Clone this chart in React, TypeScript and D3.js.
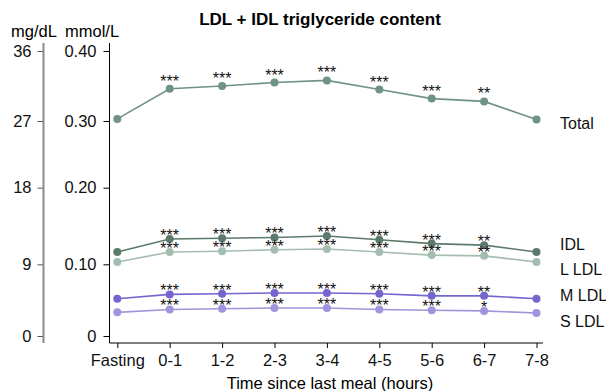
import React, { useEffect, useRef } from "react";
import * as d3 from "d3";

const times = ["Fasting", "0-1", "1-2", "2-3", "3-4", "4-5", "5-6", "6-7", "7-8"];

const mmolTicks = [0, 0.1, 0.2, 0.3, 0.4];
const mgTicks = [0, 9, 18, 27, 36];

const seriesNames = ["Total", "IDL", "L LDL", "M LDL", "S LDL"];

const totalValues = [0.303, 0.346, 0.35, 0.355, 0.358, 0.345, 0.332, 0.328, 0.302];
const idlValues = [0.116, 0.133, 0.134, 0.135, 0.137, 0.132, 0.127, 0.125, 0.116];
const lldlValues = [0.103, 0.116, 0.117, 0.119, 0.12, 0.116, 0.112, 0.111, 0.103];
const mldlValues = [0.052, 0.058, 0.059, 0.06, 0.06, 0.059, 0.056, 0.056, 0.052];
const sldlValues = [0.033, 0.037, 0.038, 0.039, 0.039, 0.037, 0.036, 0.035, 0.032];

const totalStars = ["", "***", "***", "***", "***", "***", "***", "**", ""];
const idlStars = ["", "***", "***", "***", "***", "***", "***", "**", ""];
const lldlStars = ["", "***", "***", "***", "***", "***", "***", "**", ""];
const mldlStars = ["", "***", "***", "***", "***", "***", "***", "**", ""];
const sldlStars = ["", "***", "***", "***", "***", "***", "***", "*", ""];

const FONT = "Arial, 'Liberation Sans', sans-serif";

const App: React.FC = () => {
  const svgRef = useRef<SVGSVGElement | null>(null);

  useEffect(() => {
    if (!svgRef.current) return;
    const svg = d3.select(svgRef.current);
    svg.selectAll("*").remove();

    const values = [totalValues, idlValues, lldlValues, mldlValues, sldlValues];
    const stars = [totalStars, idlStars, lldlStars, mldlStars, sldlStars];
    const colors = ["#6e9283", "#5b7a6c", "#a3bdb1", "#7565cf", "#a095dc"];
    const starShift = [-2, 2, 2, 2, 2];
    const labelShift = [4, -8, 7, -3, 8];

    const x = d3
      .scalePoint<string>()
      .domain(times)
      .range([117.3, 536.5]);

    // the picture's ticks are not evenly spaced, so follow them piecewise
    const yRange = [336, 264.3, 187.7, 121, 51];
    const y = d3.scaleLinear().domain(mmolTicks).range(yRange);
    const yMg = d3.scaleLinear().domain(mgTicks).range(yRange);

    // mg/dL axis (gray)
    const gMg = svg.append("g").attr("transform", "translate(43.5,0)");
    gMg.call(
      d3.axisLeft(yMg).tickValues(mgTicks).tickSize(6).tickPadding(6).tickFormat(d3.format("d"))
    );
    gMg.select(".domain").remove();
    gMg
      .append("line")
      .attr("y1", 43)
      .attr("y2", 343)
      .attr("stroke", "#8a8a8a")
      .attr("stroke-width", 2);
    gMg.selectAll(".tick line").attr("stroke", "#555");

    // mmol/L axis
    const gMm = svg.append("g").attr("transform", "translate(109.5,0)");
    gMm.call(
      d3
        .axisLeft(y)
        .tickValues(mmolTicks)
        .tickSize(6)
        .tickPadding(7)
        .tickFormat((d) => ((d as number) === 0 ? "0" : d3.format(".2f")(d as number)))
    );
    gMm.select(".domain").remove();
    gMm.append("line").attr("y1", 43).attr("y2", 343).attr("stroke", "#000");

    // x axis
    const gX = svg.append("g").attr("transform", "translate(0,343)");
    gX.call(d3.axisBottom(x).tickSize(5).tickPadding(6));
    gX.select(".domain").remove();
    gX.append("line").attr("x1", 109.5).attr("x2", 543).attr("stroke", "#000");

    svg
      .selectAll(".tick text")
      .attr("font-family", FONT)
      .attr("font-size", 16.5)
      .attr("fill", "#111");

    const line = d3
      .line<number>()
      .x((_, i) => x(times[i])!)
      .y((d) => y(d));

    values.forEach((vals, s) => {
      const g = svg.append("g");
      g.append("path")
        .datum(vals)
        .attr("d", line)
        .attr("fill", "none")
        .attr("stroke", colors[s])
        .attr("stroke-width", 1.6);
      g.selectAll("circle")
        .data(vals)
        .enter()
        .append("circle")
        .attr("cx", (_, i) => x(times[i])!)
        .attr("cy", (d) => y(d))
        .attr("r", 4)
        .attr("fill", colors[s]);
      g.selectAll("text.star")
        .data(vals)
        .enter()
        .append("text")
        .attr("class", "star")
        .attr("x", (_, i) => x(times[i])!)
        .attr("y", (d) => y(d) + starShift[s])
        .attr("text-anchor", "middle")
        .attr("font-family", FONT)
        .attr("font-size", 16)
        .attr("fill", "#111")
        .text((_, i) => stars[s][i]);
      g.append("text")
        .attr("x", 560)
        .attr("y", y(vals[vals.length - 1]) + labelShift[s])
        .attr("dy", "0.35em")
        .attr("font-family", FONT)
        .attr("font-size", 16)
        .attr("fill", "#111")
        .text(seriesNames[s]);
    });

    svg
      .append("text")
      .attr("x", 320)
      .attr("y", 25)
      .attr("text-anchor", "middle")
      .attr("font-family", FONT)
      .attr("font-size", 17)
      .attr("font-weight", "bold")
      .text("LDL + IDL triglyceride content");

    svg
      .append("text")
      .attr("x", 11)
      .attr("y", 36.5)
      .attr("font-family", FONT)
      .attr("font-size", 16.5)
      .text("mg/dL");
    svg
      .append("text")
      .attr("x", 65)
      .attr("y", 36.5)
      .attr("font-family", FONT)
      .attr("font-size", 16.5)
      .text("mmol/L");

    svg
      .append("text")
      .attr("x", 330)
      .attr("y", 389)
      .attr("text-anchor", "middle")
      .attr("font-family", FONT)
      .attr("font-size", 16.5)
      .text("Time since last meal (hours)");
  }, []);

  return (
    <svg
      ref={svgRef}
      width={606}
      height={391}
      style={{ position: "absolute", left: 0, top: 0, background: "#fff" }}
    />
  );
};

export default App;
